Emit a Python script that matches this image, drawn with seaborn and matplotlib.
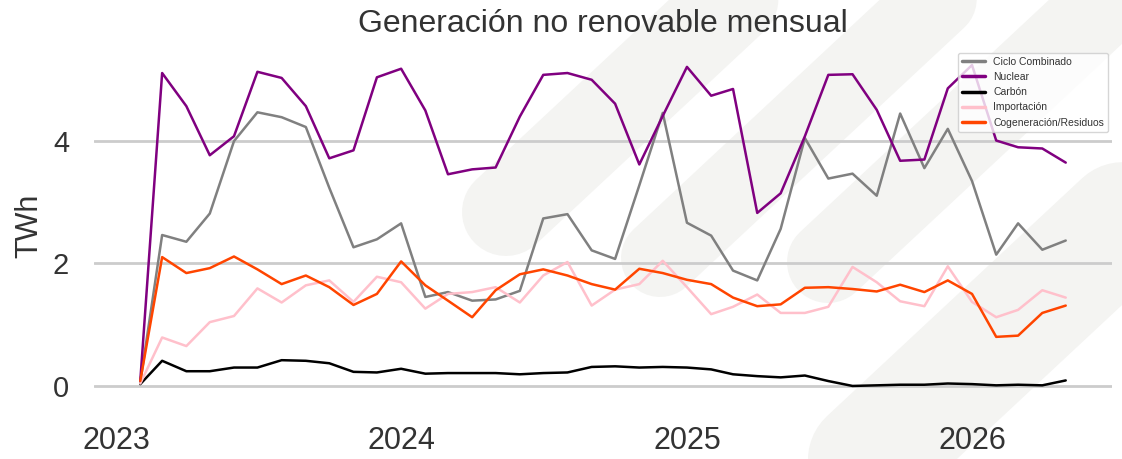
import numpy as np
import pandas as pd
import matplotlib
matplotlib.use("Agg")
import matplotlib.pyplot as plt
import seaborn as sns

# ---------------- data ----------------
fechas = pd.date_range("2023-01-31", periods=40, freq="ME")

ciclo_combinado = [0.06, 2.46, 2.35, 2.81, 3.99, 4.46, 4.38, 4.22, 3.23, 2.26,
                   2.39, 2.65, 1.45, 1.53, 1.39, 1.41, 1.55, 2.73, 2.80, 2.21,
                   2.07, 3.27, 4.45, 2.66, 2.45, 1.88, 1.72, 2.56, 4.04, 3.38,
                   3.46, 3.10, 4.44, 3.55, 4.19, 3.34, 2.14, 2.65, 2.22, 2.37]
nuclear = [0.08, 5.10, 4.56, 3.76, 4.07, 5.12, 5.02, 4.56, 3.71, 3.84,
           5.03, 5.17, 4.49, 3.45, 3.53, 3.56, 4.39, 5.07, 5.10, 4.99,
           4.60, 3.61, 4.40, 5.20, 4.73, 4.84, 2.82, 3.14, 4.07, 5.07,
           5.08, 4.50, 3.67, 3.69, 4.85, 5.23, 4.00, 3.89, 3.87, 3.64]
carbon = [0.03, 0.41, 0.24, 0.24, 0.30, 0.30, 0.42, 0.41, 0.37, 0.23,
          0.22, 0.28, 0.20, 0.21, 0.21, 0.21, 0.19, 0.21, 0.22, 0.31,
          0.32, 0.30, 0.31, 0.30, 0.27, 0.19, 0.16, 0.14, 0.17, 0.08,
          0.00, 0.01, 0.02, 0.02, 0.04, 0.03, 0.01, 0.02, 0.01, 0.09]
importacion = [0.04, 0.79, 0.65, 1.04, 1.14, 1.59, 1.36, 1.64, 1.72, 1.37,
               1.78, 1.69, 1.26, 1.50, 1.53, 1.61, 1.36, 1.80, 2.02, 1.31,
               1.57, 1.66, 2.04, 1.61, 1.17, 1.29, 1.49, 1.19, 1.19, 1.29,
               1.94, 1.69, 1.38, 1.30, 1.95, 1.37, 1.12, 1.24, 1.56, 1.44]
cogeneracion = [0.08, 2.10, 1.84, 1.92, 2.11, 1.90, 1.66, 1.80, 1.61, 1.32,
                1.50, 2.03, 1.64, 1.39, 1.12, 1.56, 1.82, 1.90, 1.80, 1.66,
                1.57, 1.91, 1.84, 1.73, 1.66, 1.44, 1.30, 1.33, 1.60, 1.61,
                1.58, 1.54, 1.65, 1.53, 1.72, 1.50, 0.80, 0.82, 1.19, 1.31]

series_names = ["Ciclo Combinado", "Nuclear", "Carbón", "Importación",
                "Cogeneración/Residuos"]
series_values = [ciclo_combinado, nuclear, carbon, importacion, cogeneracion]
series_colors = ["#808080", "#800080", "#000000", "#FFC0CB", "#FF4500"]

year_ticks = ["2023", "2024", "2025", "2026"]
y_ticks = [0, 2, 4]

df = pd.concat(
    [pd.DataFrame({"fecha": fechas, "TWh": vals, "serie": name})
     for name, vals in zip(series_names, series_values)],
    ignore_index=True)

# ---------------- style ----------------
sns.set_theme(style="white")
plt.rcParams["font.family"] = ["Liberation Sans", "DejaVu Sans"]
text_color = "#333333"

W, H = 1122, 459
fig = plt.figure(figsize=(W / 100, H / 100), dpi=100)

# watermark background (decorative diagonal bands)
bg = fig.add_axes([0, 0, 1, 1], zorder=0)
bg.set_xlim(0, W)
bg.set_ylim(H, 0)
bg.axis("off")
wm_color = "#f4f4f2"
ang = np.deg2rad(43)
d = np.array([np.cos(ang), -np.sin(ang)])
n = np.array([np.sin(ang), np.cos(ang)])
bands = [((506, 212), 88, 500, 0),
         ((660, 258), 78, 500, 0),
         ((828, 262), 82, 600, 0),
         (tuple(np.array([781, 459]) + n * 60), 120, 900, 300)]
for (cx, cy), wpx, length, back in bands:
    p0 = np.array([cx, cy]) - d * back
    p1 = np.array([cx, cy]) + d * length
    bg.plot([p0[0], p1[0]], [p0[1], p1[1]], color=wm_color,
            lw=wpx * 72 / 100, solid_capstyle="round")

# main axes
left, right, top, bottom = 94, 1112, 49, 402
ax = fig.add_axes([left / W, 1 - bottom / H, (right - left) / W,
                   (bottom - top) / H], zorder=1)
ax.set_facecolor("none")

sns.lineplot(data=df, x="fecha", y="TWh", hue="serie",
             hue_order=series_names,
             palette=dict(zip(series_names, series_colors)),
             linewidth=1.8, ax=ax)

sns.despine(ax=ax, left=True, bottom=True)
ax.yaxis.grid(True, color="#cccccc", lw=2)
ax.xaxis.grid(False)
ax.set_axisbelow(True)

ax.set_xticks([pd.Timestamp(f"{y}-01-01") for y in year_ticks])
ax.set_xticklabels(year_ticks)
ax.set_yticks(y_ticks)
ax.set_yticklabels([str(v) for v in y_ticks])
ax.tick_params(axis="x", length=0, pad=17, labelsize=22, colors=text_color)
ax.tick_params(axis="y", length=0, pad=18, labelsize=21, colors=text_color)

ax.set_xlabel("")
ax.set_ylabel("TWh", fontsize=22, color=text_color)
ax.yaxis.set_label_coords(-0.049, 0.5)
ax.set_title("Generación no renovable mensual", fontsize=23,
             color=text_color, pad=12)

leg = ax.legend(loc="upper right", fontsize=7.5, frameon=True,
                labelspacing=0.5, borderaxespad=0.35, handlelength=2.2,
                edgecolor="#cccccc", framealpha=0.8)
for line in leg.get_lines():
    line.set_linewidth(2.5)
for t in leg.get_texts():
    t.set_color(text_color)

fig.savefig("out.png", dpi=100)
